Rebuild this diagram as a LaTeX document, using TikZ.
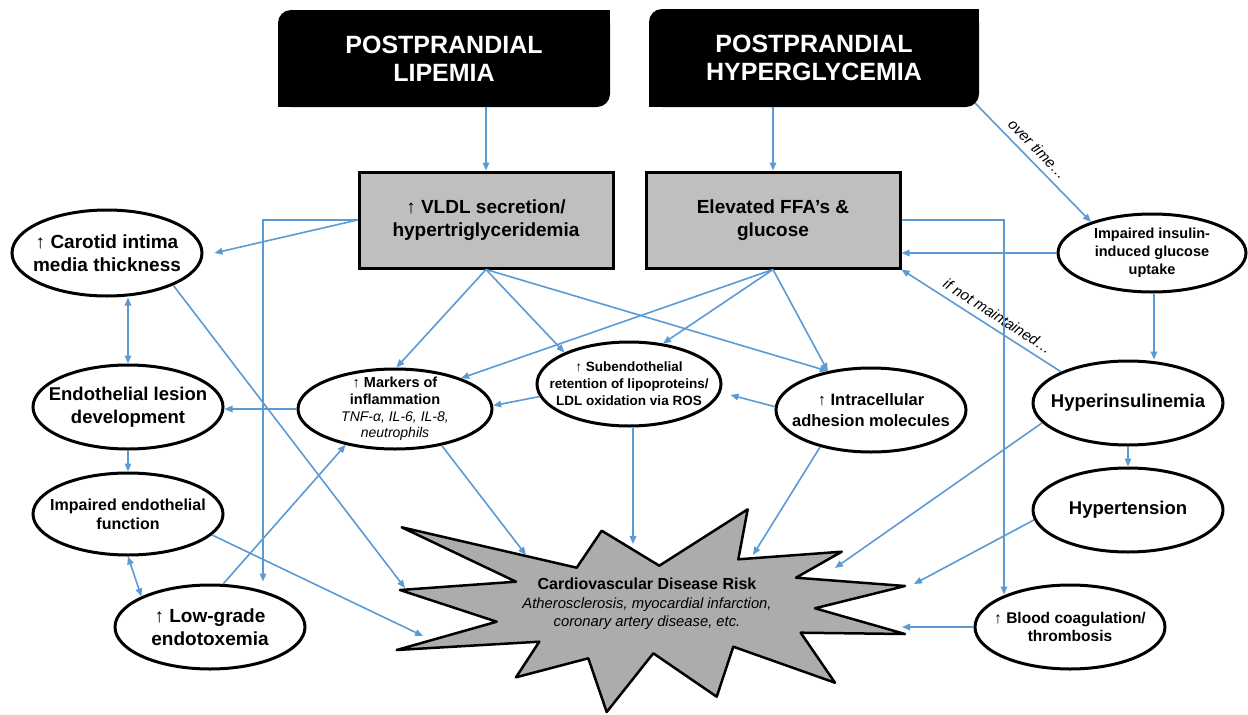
\documentclass[tikz,border=0pt]{standalone}
\usepackage{fontspec}
\setmainfont{Liberation Sans}
\usetikzlibrary{arrows.meta,shapes.geometric,calc}
\definecolor{cblue}{RGB}{91,155,213}
\definecolor{boxgrey}{RGB}{191,191,191}
\definecolor{burst}{RGB}{174,171,171}
\newcommand\myfs[2]{\fontsize{#1}{#2}\selectfont}
\begin{document}
\begin{tikzpicture}[x=1pt,y=-1pt,
  conn/.style={draw=cblue, line width=1.6pt, -{Triangle[length=8pt,width=6.5pt]}},
  dconn/.style={draw=cblue, line width=1.6pt, {Triangle[length=8pt,width=6.5pt]}-{Triangle[length=8pt,width=6.5pt]}},
  ell/.style={ellipse, draw=black, line width=3pt, fill=white, inner sep=0pt},
  txt/.style={align=center, inner sep=0pt, text=black},
  blackbox/.style={rectangle, fill=black, rounded corners=13pt, text=white, align=center, inner sep=0pt, font=\myfs{25}{28}\bfseries},
  greybox/.style={rectangle, draw=black, line width=3pt, fill=boxgrey, align=center, inner sep=0pt, font=\myfs{19}{23}\bfseries},
  edgelbl/.style={font=\myfs{15}{18}\itshape, text=black, inner sep=2.5pt}
]
\useasboundingbox (0,0) rectangle (1248,715);
\fill[white] (0,0) rectangle (1248,715);

% top boxes
\node[blackbox, minimum width=332pt, minimum height=97pt] (lip) at (444,58.5) {POSTPRANDIAL\\LIPEMIA};
\fill[black] (lip.north east) rectangle ++(-16,16);
\fill[black] (lip.south west) rectangle ++(16,-16);
\node[blackbox, minimum width=330pt, minimum height=98pt] (hyp) at (814,58) {POSTPRANDIAL\\HYPERGLYCEMIA};
\fill[black] (hyp.north east) rectangle ++(-16,16);
\fill[black] (hyp.south west) rectangle ++(16,-16);

% grey boxes
\node[greybox, minimum width=254pt, minimum height=96pt] (vldl) at (486,220) {↑ VLDL secretion/\\hypertriglyceridemia};
\node[greybox, minimum width=254pt, minimum height=96pt] (ffa) at (773,220) {Elevated FFA’s \&\\glucose};

% starburst
\draw[line width=2.5pt, fill=burst, line join=round]
  (401.7,527.3) -- (576.7,567.7) -- (601.7,530.7) -- (659.3,565.7) -- (747.7,509.3)
  -- (738.3,559.3) -- (841.7,551.7) -- (796,577.7) -- (905,586) -- (815,608.3)
  -- (905,634) -- (800.7,632.7) -- (835,682.7) -- (733.3,646.7) -- (716.7,696.7)
  -- (653.3,653.3) -- (606.7,712) -- (588.3,658.3) -- (516,677.3) -- (539.3,641.7)
  -- (396.7,650) -- (496.7,621.7) -- (400,590) -- (516,581.7) -- cycle;
\node[txt, font=\myfs{16}{18.5}\bfseries] (cvd) at (647,604)
  {Cardiovascular Disease Risk\\{\mdseries\itshape\myfs{14.8}{18.5}Atherosclerosis, myocardial infarction,}\\{\mdseries\itshape\myfs{14.8}{18.5}coronary artery disease, etc.}};
\coordinate (cvd-c) at (405,588);
\coordinate (cvd-i) at (423,636);
\coordinate (cvd-m) at (526,555);
\coordinate (cvd-s) at (633,544);
\coordinate (cvd-n) at (753,555);
\coordinate (cvd-h) at (835,568);
\coordinate (cvd-t) at (914,584);
\coordinate (cvd-b) at (902,628);

% ellipses
\node[ell, minimum width=190pt, minimum height=86pt] (carotid) at (107,253) {};
\node[txt, font=\myfs{19}{23}\bfseries] (carotid-t) at (carotid) {↑ Carotid intima\\media thickness};
\node[ell, minimum width=190pt, minimum height=84pt] (endo) at (128,407) {};
\node[txt, font=\myfs{18.5}{23}\bfseries] (endo-t) at (endo) {Endothelial lesion\\development};
\node[ell, minimum width=190pt, minimum height=82pt] (impf) at (128,514) {};
\node[txt, font=\myfs{16}{19}\bfseries] (impf-t) at (impf) {Impaired endothelial\\function};
\node[ell, minimum width=190pt, minimum height=84pt] (lowgrade) at (210,627) {};
\node[txt, font=\myfs{19}{23}\bfseries] (lowgrade-t) at (lowgrade) {↑ Low-grade\\endotoxemia};
\node[ell, minimum width=194pt, minimum height=80pt] (markers) at (395,409) {};
\node[txt, font=\myfs{14.5}{16.7}\bfseries] (markers-t) at (markers) {↑ Markers of\\inflammation\\{\mdseries\itshape\myfs{14}{16.7}TNF-α, IL-6, IL-8,}\\{\mdseries\itshape\myfs{14}{16.7}neutrophils}};
\node[ell, minimum width=184pt, minimum height=84pt] (subendo) at (629,384) {};
\node[txt, font=\myfs{13.5}{17}\bfseries] (subendo-t) at (subendo) {↑ Subendothelial\\retention of lipoproteins/\\LDL oxidation via ROS};
\node[ell, minimum width=190pt, minimum height=84pt] (intra) at (871,410) {};
\node[txt, font=\myfs{16.5}{21}\bfseries] (intra-t) at (intra) {↑ Intracellular\\adhesion molecules};
\node[ell, minimum width=188pt, minimum height=78pt] (insulin) at (1152,253) {};
\node[txt, font=\myfs{14.5}{18}\bfseries] (insulin-t) at (insulin) {Impaired insulin-\\induced glucose\\uptake};
\node[ell, minimum width=190pt, minimum height=84pt] (hyperins) at (1128,403) {};
\node[txt, font=\myfs{18.5}{23}\bfseries] (hyperins-t) at (hyperins) {Hyperinsulinemia};
\node[ell, minimum width=190pt, minimum height=84pt] (hypert) at (1128,510) {};
\node[txt, font=\myfs{18.5}{23}\bfseries] (hypert-t) at (hypert) {Hypertension};
\node[ell, minimum width=190pt, minimum height=84pt] (bloodc) at (1070,627) {};
\node[txt, font=\myfs{15.5}{18}\bfseries] (bloodc-t) at (bloodc) {↑ Blood coagulation/\\thrombosis};

% connectors
\draw[conn] (vldl.north |- lip.south) -- (vldl.north);
\draw[conn] (ffa.north |- hyp.south) -- (ffa.north);
\draw[conn] ($(hyp.south east)+(-4,-4)$) -- node[edgelbl, sloped, above=4pt, pos=0.46] (lbl-ot) {over time…} (insulin.153);
\draw[conn] (insulin.west) -- (insulin.west -| ffa.east);
\draw[conn] (hyperins.155) -- node[edgelbl, sloped, above=4pt, pos=0.44] (lbl-nm) {if not maintained…} (ffa.south east);
\coordinate (a6) at ($(insulin.south)+(2,0)$);
\draw[conn] (a6) -- (a6 |- hyperins.north);
\draw[conn] (hyperins.south) -- (hypert.north);
\draw[conn] (hyperins.193) -- (cvd-h);
\draw[conn] (hypert.186) -- (cvd-t);
\draw[conn] (bloodc.west) -- (bloodc.west -| cvd-b);
\coordinate (bc-top) at ($(bloodc.north)+(-66,11)$);
\draw[conn] (ffa.east) -| (bc-top);
\draw[conn] (vldl.west) -- ($(carotid.east)+(11,0)$);
\coordinate (lg-top) at ($(lowgrade.north)+(53,-2)$);
\draw[conn] (vldl.west) -| (lg-top);
\draw[dconn] (endo.north |- carotid.south) -- (endo.north);
\draw[conn] (endo.south) -- (impf.north);
\draw[dconn] (impf.south) -- (lowgrade.156);
\draw[conn] (markers.west) -- (markers.west -| endo.east);
\draw[conn] (carotid.-26) -- (cvd-c);
\draw[conn] (lowgrade.73) -- (markers.216);
\draw[conn] (impf.-14) -- (cvd-i);
\draw[conn] (markers.-38) -- (cvd-m);
\draw[conn] ($(subendo.south)+(4,0)$) -- (cvd-s);
\draw[conn] (intra.216) -- (cvd-n);
\draw[conn] (vldl.south) -- (markers.88);
\draw[conn] (vldl.south) -- (subendo.154);
\draw[conn] (vldl.south) -- (intra.138);
\draw[conn] (ffa.south) -- (markers.25);
\draw[conn] (ffa.south) -- (subendo.50);
\draw[conn] (ffa.south) -- (intra.138);
\draw[conn] (subendo.188) -- (markers.2);
\draw[conn] (intra.178) -- ($(subendo.east)+(8,11)$);
\end{tikzpicture}
\end{document}
